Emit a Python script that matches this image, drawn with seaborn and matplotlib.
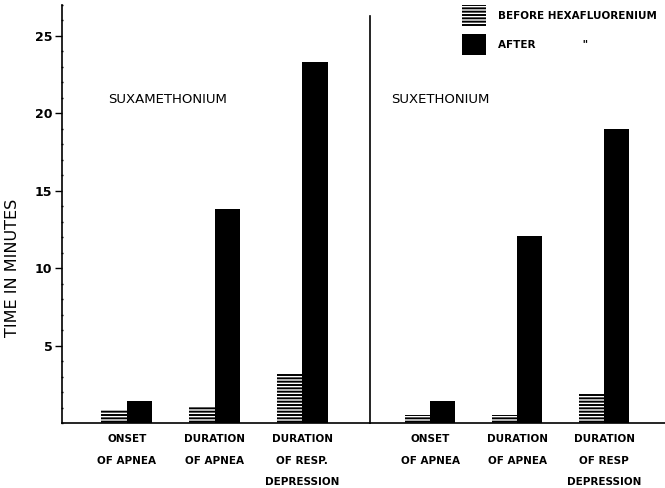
import pandas as pd
import seaborn as sns
import matplotlib.pyplot as plt
from matplotlib.ticker import MultipleLocator


measures = ["onset", "duration", "resp"]
labels_left = ["ONSET\nOF APNEA", "DURATION\nOF APNEA", "DURATION\nOF RESP.\nDEPRESSION"]
labels_right = ["ONSET\nOF APNEA", "DURATION\nOF APNEA", "DURATION\nOF RESP\nDEPRESSION"]
conditions = ["BEFORE HEXAFLUORENIUM", "AFTER             \""]

suxamethonium_before = [0.85, 1.1, 3.2]
suxamethonium_after = [1.4, 13.8, 23.3]
suxethonium_before = [0.5, 0.5, 1.9]
suxethonium_after = [1.4, 12.1, 19.0]

ytick_values = [5, 10, 15, 20, 25]


def panel_df(before, after):
    return pd.DataFrame({
        "measure": measures * 2,
        "condition": [conditions[0]] * 3 + [conditions[1]] * 3,
        "minutes": before + after,
    })


sns.set_style("white")
plt.rcParams["font.family"] = ["DejaVu Sans"]
plt.rcParams["hatch.linewidth"] = 1.4
plt.rcParams["text.color"] = "black"
plt.rcParams["xtick.color"] = "black"
plt.rcParams["ytick.color"] = "black"
plt.rcParams["axes.labelcolor"] = "black"

fig = plt.figure(figsize=(6.65, 4.88), dpi=100)
W, H = 665, 488
# axes placed in pixel units of the reference
ax1 = fig.add_axes([62 / W, (H - 423) / H, (370 - 62) / W, 418 / H])
ax2 = fig.add_axes([370 / W, (H - 423) / H, (665 - 370) / W, 418 / H], sharey=ax1)

for ax, before, after, ticklabels, title, xlim, title_x in [
    (ax1, suxamethonium_before, suxamethonium_after, labels_left, "SUXAMETHONIUM", (-0.74, 2.77), 0.15),
    (ax2, suxethonium_before, suxethonium_after, labels_right, "SUXETHONIUM", (-0.69, 2.70), 0.07),
]:
    df = panel_df(before, after)
    sns.barplot(data=df, x="measure", y="minutes", hue="condition", order=measures,
                hue_order=conditions, palette=["white", "black"], width=0.58,
                legend=False, ax=ax, saturation=1)
    for bar in ax.containers[0]:
        bar.set_hatch("-----")
        bar.set_edgecolor("black")
        bar.set_linewidth(0)
    for bar in ax.containers[1]:
        bar.set_edgecolor("black")
        bar.set_linewidth(0)
    ax.set_xlim(*xlim)
    ax.set_xticks(range(3))
    ax.set_xticklabels(ticklabels, fontsize=7.5, fontweight="bold", linespacing=2.45)
    ax.tick_params(axis="x", length=0, pad=8)
    ax.set_xlabel("")
    ax.set_ylabel("")
    ax.text(title_x, 0.775, title, transform=ax.transAxes, fontsize=9.5, va="center")
    for s in ["top", "right"]:
        ax.spines[s].set_visible(False)
    for s in ["left", "bottom"]:
        ax.spines[s].set_color("black")
        ax.spines[s].set_linewidth(1.2)

ax1.set_ylim(0, 27)
ax1.set_yticks(ytick_values)
ax1.yaxis.set_minor_locator(MultipleLocator(1))
ax1.set_yticklabels([str(v) for v in ytick_values], fontsize=9, fontweight="bold")
ax1.tick_params(axis="y", which="major", direction="out", length=5, width=1, color="black", left=True, pad=2)
ax1.tick_params(axis="y", which="minor", direction="inout", length=2, width=1, color="black", left=True)
ax1.set_ylabel("TIME IN MINUTES", fontsize=11.5)
ax1.yaxis.set_label_coords(-0.135, 0.37)

ax2.spines["left"].set_bounds(0, 26.3)
ax2.tick_params(axis="y", which="both", left=False, labelleft=False)

fig.legend(ax1.containers[:2], conditions, loc="upper left", bbox_to_anchor=(458 / W, 0.998),
           frameon=False, prop={"size": 7.5, "weight": "bold"}, handlelength=2.3,
           handleheight=2.7, handletextpad=1.1, labelspacing=0.8, borderaxespad=0)

fig.savefig("out.png", dpi=100)
